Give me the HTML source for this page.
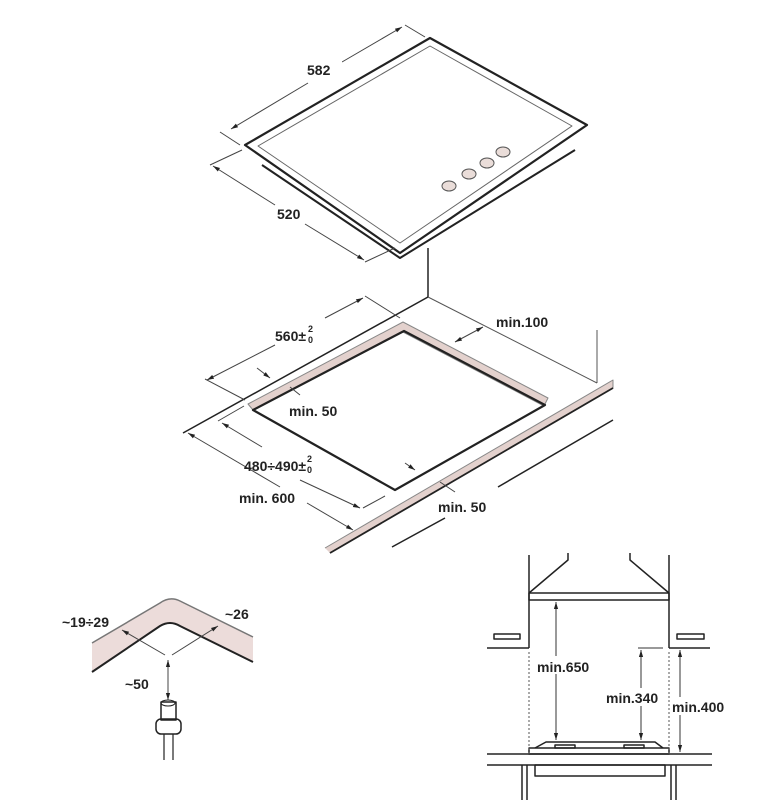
<!DOCTYPE html>
<html><head><meta charset="utf-8"><style>
html,body{margin:0;padding:0;background:#fff}
svg{display:block}
text{font-family:"Liberation Sans",Arial,sans-serif;font-weight:bold;fill:#222}
</style></head><body>
<svg width="782" height="800" viewBox="0 0 782 800" xmlns="http://www.w3.org/2000/svg">
<defs>
<marker id="a" viewBox="0 0 10 10" refX="10" refY="5" markerWidth="7" markerHeight="7" orient="auto-start-reverse"><path d="M0,2 L10,5 L0,8 z" fill="#222"/></marker>
</defs>
<g fill="none" stroke="#222" stroke-linejoin="round">
<path d="M262,165 L400,258 L575,150" stroke-width="2"/>
<path d="M245,145 L430,38 L587,125 L400,253 Z" stroke-width="2.2" fill="#fff"/>
<path d="M258,146 L430,46 L572,126 L400,243 Z" stroke-width="1" stroke="#666"/>
<g fill="#eaddd9" stroke="#555" stroke-width="1">
<ellipse cx="449" cy="186" rx="7" ry="5"/><ellipse cx="469" cy="174" rx="7" ry="5"/>
<ellipse cx="487" cy="163" rx="7" ry="5"/><ellipse cx="503" cy="152" rx="7" ry="5"/>
</g>
<g stroke-width="1" stroke="#444">
<line x1="220" y1="132" x2="240" y2="145"/><line x1="405" y1="25" x2="425" y2="37"/>
<line x1="231" y1="129" x2="308" y2="83" marker-start="url(#a)"/>
<line x1="342" y1="62" x2="402" y2="27" marker-end="url(#a)"/>
<line x1="210" y1="165" x2="242" y2="150"/><line x1="365" y1="262" x2="395" y2="248"/>
<line x1="213" y1="166" x2="275" y2="205" marker-start="url(#a)"/>
<line x1="305" y1="224" x2="364" y2="260" marker-end="url(#a)"/>
</g>
<line x1="428" y1="248" x2="428" y2="297" stroke-width="1.5"/>
<line x1="183" y1="433" x2="428" y2="297" stroke-width="1.5"/>
<line x1="428" y1="297" x2="597" y2="383" stroke-width="1" stroke="#555"/>
<line x1="597" y1="330" x2="597" y2="383" stroke-width="1" stroke="#555"/>
<path d="M248,404 L403,322 L548,398 L544,406 L403,332 L253,410 Z" fill="#e3d1cd" stroke="#888" stroke-width="1"/>
<path d="M253,410 L404,331 L545,405 L395,490 Z" stroke-width="2.2"/>
<path d="M325,548 L613,380 L613,388 L330,553" fill="#e3d1cd" stroke="#888" stroke-width="1"/>
<line x1="330" y1="553" x2="613" y2="388" stroke-width="1.8"/>
<line x1="498" y1="487" x2="613" y2="420" stroke-width="1.5"/>
<line x1="392" y1="547" x2="445" y2="518" stroke-width="1.5"/>
<g stroke-width="1" stroke="#444">
<line x1="207" y1="380" x2="275" y2="345" marker-start="url(#a)"/>
<line x1="325" y1="318" x2="363" y2="298" marker-end="url(#a)"/>
<line x1="365" y1="296" x2="400" y2="318"/><line x1="205" y1="379" x2="245" y2="400"/>
<line x1="257" y1="368" x2="270" y2="378" marker-end="url(#a)"/>
<line x1="455" y1="342" x2="483" y2="327" marker-start="url(#a)" marker-end="url(#a)"/>
<line x1="290" y1="387" x2="300" y2="395"/>
<line x1="188" y1="433" x2="280" y2="487" marker-start="url(#a)"/>
<line x1="307" y1="503" x2="353" y2="530" marker-end="url(#a)"/>
<line x1="222" y1="423" x2="262" y2="447" marker-start="url(#a)"/>
<line x1="300" y1="480" x2="360" y2="508" marker-end="url(#a)"/>
<line x1="363" y1="508" x2="385" y2="496"/><line x1="218" y1="421" x2="244" y2="406"/>
<line x1="405" y1="463" x2="415" y2="470" marker-end="url(#a)"/>
<line x1="440" y1="482" x2="455" y2="492"/>
</g>
<path d="M92,643 L160,603 Q170,596 180,601 L253,637 L253,662 L180,626 Q170,620 160,626 L92,672 Z" fill="#ecdcda" stroke="none"/>
<path d="M92,643 L160,603 Q170,596 180,601 L253,637" stroke="#777" stroke-width="1.5"/>
<path d="M92,672 L160,626 Q170,620 180,626 L253,662" stroke-width="2"/>
<g stroke-width="1" stroke="#444">
<line x1="165" y1="655" x2="122" y2="630" marker-end="url(#a)"/>
<line x1="172" y1="655" x2="218" y2="626" marker-end="url(#a)"/>
<line x1="168" y1="660" x2="168" y2="700" marker-start="url(#a)" marker-end="url(#a)"/>
</g>
<rect x="161" y="702" width="15" height="18" stroke-width="1.5"/>
<ellipse cx="168" cy="703" rx="7" ry="3" stroke-width="1"/>
<rect x="156" y="719" width="25" height="15" rx="5" stroke-width="1.5"/>
<line x1="164" y1="734" x2="164" y2="760" stroke-width="1.2"/><line x1="173" y1="734" x2="173" y2="760" stroke-width="1.2"/>
<g stroke-width="1.5">
<line x1="529" y1="555" x2="529" y2="648"/><line x1="669" y1="555" x2="669" y2="648"/>
<rect x="529" y="593" width="140" height="7"/>
<path d="M529,593 L568,560 L568,553"/><path d="M669,593 L630,560 L630,553"/>
<line x1="487" y1="648" x2="529" y2="648"/><line x1="669" y1="648" x2="710" y2="648"/>
<rect x="494" y="634" width="26" height="5"/><rect x="677" y="634" width="27" height="5"/>
<line x1="487" y1="754" x2="712" y2="754"/><line x1="487" y1="765" x2="712" y2="765"/>
<rect x="529" y="748" width="140" height="6"/>
<path d="M535,748 L546,742 L655,742 L663,748"/>
<rect x="555" y="745" width="20" height="3"/><rect x="624" y="745" width="20" height="3"/>
<rect x="535" y="765" width="130" height="11"/>
<line x1="522" y1="765" x2="522" y2="800"/><line x1="527" y1="765" x2="527" y2="800"/>
<line x1="671" y1="765" x2="671" y2="800"/><line x1="676" y1="765" x2="676" y2="800"/>
</g>
<g stroke-width="1" stroke-dasharray="2,2" stroke="#555">
<line x1="529" y1="652" x2="529" y2="755"/><line x1="669" y1="652" x2="669" y2="755"/>
</g>
<g stroke-width="1" stroke="#333">
<line x1="556" y1="602" x2="556" y2="740" marker-start="url(#a)" marker-end="url(#a)"/>
<line x1="641" y1="650" x2="641" y2="740" marker-start="url(#a)" marker-end="url(#a)"/>
<line x1="638" y1="648" x2="663" y2="648"/>
<line x1="680" y1="650" x2="680" y2="752" marker-start="url(#a)" marker-end="url(#a)"/>
</g>
</g>
<g font-size="14">
<rect x="306" y="58" width="36" height="18" fill="#fff"/>
<text x="307" y="75">582</text>
<rect x="276" y="200" width="32" height="18" fill="#fff"/>
<text x="277" y="219">520</text>
<text x="275" y="341">560±</text><text x="308" y="332" font-size="9">2</text><text x="308" y="343" font-size="9">0</text>
<text x="496" y="327">min.100</text>
<text x="289" y="416">min. 50</text>
<text x="244" y="471">480÷490±</text><text x="307" y="462" font-size="9">2</text><text x="307" y="473" font-size="9">0</text>
<text x="239" y="503">min. 600</text>
<text x="438" y="512">min. 50</text>
<text x="62" y="627">~19÷29</text>
<text x="225" y="619">~26</text>
<text x="125" y="689">~50</text>
<rect x="536" y="656" width="48" height="18" fill="#fff"/>
<text x="537" y="672">min.650</text>
<rect x="605" y="688" width="60" height="18" fill="#fff"/>
<text x="606" y="703">min.340</text>
<rect x="672" y="697" width="62" height="18" fill="#fff"/>
<text x="672" y="712">min.400</text>
</g>
</svg>
</body></html>
